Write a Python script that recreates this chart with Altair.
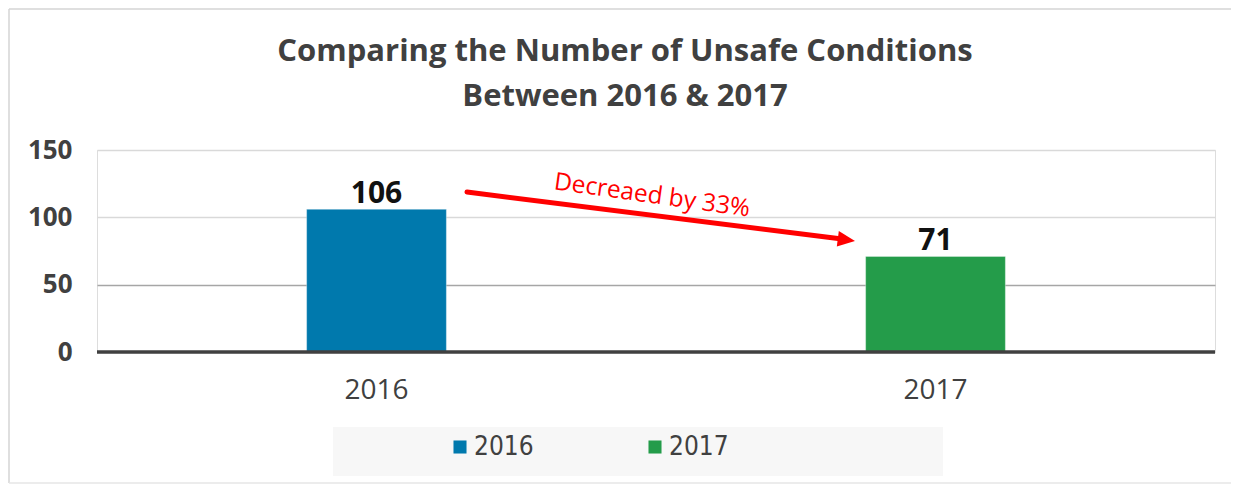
import altair as alt
import pandas as pd

# ---- data ----
years = ["2016", "2017"]
counts = [106, 71]
bar_colors = ["#0079ad", "#249c4a"]
y_ticks = [0, 50, 100, 150]
title_lines = ["Comparing the Number of Unsafe Conditions", "Between 2016 & 2017"]
note_text = "Decreaed by 33%"
arrow_y_start = [118.8]
arrow_y_end = [83.9]
arrow_y_tip = [82.4]

df = pd.DataFrame({"year": years, "count": counts})

W, H = 1118, 202
FONT = "Open Sans"
LEGEND_FONT = "Liberation Sans Narrow, DejaVu Sans Condensed, Open Sans, sans-serif"

x_enc = alt.X(
    "year:N",
    sort=years,
    scale=alt.Scale(paddingInner=0, paddingOuter=0),
    axis=alt.Axis(
        title=None, domain=False, ticks=False, labelAngle=0,
        labelFont=FONT, labelFontSize=28, labelColor="#404040",
        labelPadding=24,
    ),
)
y_scale = alt.Scale(domain=[0, 150], nice=False)
y_enc = alt.Y(
    "count:Q",
    scale=y_scale,
    axis=alt.Axis(
        title=None, domain=False, ticks=False, values=y_ticks,
        labelFont=FONT, labelFontSize=26, labelFontWeight="bold",
        labelColor="#404040", labelPadding=25,
        gridColor=alt.ExprRef(expr="datum.value === 50 ? '#a6a6a6' : '#d9d9d9'"),
        gridWidth=1.6,
    ),
)

one = pd.DataFrame({"k": [0]})
frame_left = alt.Chart(one).mark_rule(color="#d4d4d4", strokeWidth=1.5).encode(
    x=alt.value(-88), y=alt.value(-141), y2=alt.value(333)
)
frame_top = alt.Chart(one).mark_rule(color="#d4d4d4", strokeWidth=1.5).encode(
    x=alt.value(-88), x2=alt.value(1134), y=alt.value(-141)
)
frame_bottom = alt.Chart(one).mark_rule(color="#e6e6e6", strokeWidth=1.5).encode(
    x=alt.value(-88), x2=alt.value(1134), y=alt.value(333)
)

legend_bg = alt.Chart(one).mark_rect(fill="#f7f7f7").encode(
    x=alt.value(236), x2=alt.value(846), y=alt.value(277), y2=alt.value(326)
)

title = alt.Chart(pd.DataFrame({"t": [title_lines]})).mark_text(
    font=FONT, fontSize=31, fontWeight="bold", color="#404040",
    align="center", baseline="alphabetic", lineHeight=45,
).encode(x=alt.value(528), y=alt.value(-89), text="t")

bars = alt.Chart(df).mark_bar(
    width=alt.RelativeBandSize(0.25), stroke="white", strokeOpacity=0.35, strokeWidth=1
).encode(
    x=x_enc,
    y=y_enc,
    color=alt.Color(
        "year:N",
        scale=alt.Scale(domain=years, range=bar_colors),
        legend=alt.Legend(
            title=None, orient="none", direction="horizontal",
            legendX=350, legendY=284,
            symbolType="square", symbolSize=170, symbolStrokeWidth=0,
            labelFont=LEGEND_FONT, labelFontSize=26,
            labelColor="#404040", labelOffset=1, columnPadding=108,
            padding=0,
        ),
    ),
)

zero_line = alt.Chart(pd.DataFrame({"v": [0]})).mark_rule(
    color="#404040", strokeWidth=3.5
).encode(y=alt.Y("v:Q", scale=y_scale))

labels = alt.Chart(df).mark_text(
    font=FONT, fontSize=30, fontWeight="bold", color="#111111",
    baseline="alphabetic", dy=-6,
).encode(
    x=alt.X("year:N", sort=years),
    y=alt.Y("count:Q", scale=y_scale),
    text=alt.Text("count:Q"),
)

arrow_df = pd.DataFrame({"y0": arrow_y_start, "y1": arrow_y_end, "yt": arrow_y_tip})
arrow_line = alt.Chart(arrow_df).mark_rule(
    color="#ff0000", strokeWidth=5, strokeCap="round"
).encode(
    x=alt.value(370), x2=alt.value(745),
    y=alt.Y("y0:Q", scale=y_scale), y2="y1:Q",
)
arrow_head = alt.Chart(arrow_df).mark_point(
    shape="M 0 0 L -2 -0.9 L -2 0.9 Z", size=300, filled=True,
    color="#ff0000", opacity=1, angle=7.3,
).encode(
    x=alt.value(758),
    y=alt.Y("yt:Q", scale=y_scale),
)
note = alt.Chart(pd.DataFrame({"t": [note_text]})).mark_text(
    font=FONT, fontSize=24.5, color="#ff0000", angle=8,
).encode(
    x=alt.value(555), y=alt.value(46), text="t:N"
)

chart = alt.layer(
    frame_left, frame_top, frame_bottom, legend_bg, title,
    bars, zero_line, labels, arrow_line, arrow_head, note
).properties(
    width=W, height=H,
    autosize=alt.AutoSizeParams(type="none"),
    padding={"left": 89, "top": 142, "right": 17, "bottom": 132},
).configure_view(stroke=None).configure(background="white")

chart.save("out.html", embed_options={"renderer": "svg", "actions": False})
